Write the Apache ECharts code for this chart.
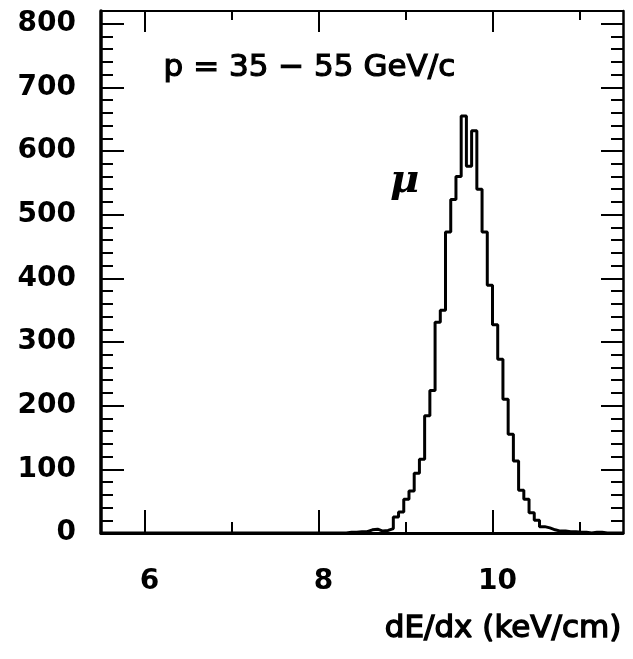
<!DOCTYPE html>
<html><head><meta charset="utf-8">
<script src="https://cdn.jsdelivr.net/npm/echarts@6/dist/echarts.min.js"></script>
<style>html,body{margin:0;padding:0;background:#fff}#c{width:633px;height:659px}</style>
</head><body><div id="c"></div>
<script>
// Histogram: 100 bins of 0.06 keV/cm from 5.5 to 11.5
const xMin = 5.5;
const xMax = 11.5;
const binWidth = 0.06;
const counts = [
  0,0,0,0,0,0,0,0,0,0,
  0,0,0,0,0,0,0,0,0,0,
  0,0,0,0,0,0,0,0,0,0,
  0,0,0,0,0,0,0,0,0,0,
  0,0,0,0,0,0,0,1,1,2,
  2,5,6,3,4,7,25,33,53,66,
  94,116,184,224,331,350,473,524,560,655,
  576,632,540,473,389,327,273,210,155,113,
  67,53,32,20,10,8,5,3,3,2,
  2,1,1,0,1,1,0,0,0,0
];
const xMajorTicks = [6, 8, 10];
const xMinorTicks = [7, 9, 11];
const yMin = 0;
const yMax = 820;
const yMajorStep = 100;
const yMinorStep = 20;
const momentumLabel = 'p = 35 − 55 GeV/c';
const particleLabel = 'μ';
const xTitle = 'dE/dx (keV/cm)';

const stepData = counts.map((c, k) => [xMin + k * binWidth, c]);
stepData.push([xMax, counts[counts.length - 1]]);

const chart = echarts.init(document.getElementById('c'), null, {renderer: 'canvas'});
const FONT = '"DejaVu Sans", "Liberation Sans", sans-serif';
function xAx(pos, ticks, len, showLine, lineW, labels) {
  return {
    type: 'value', min: xMin, max: xMax, position: pos,
    axisLine: {show: showLine, onZero: false, lineStyle: {color: '#000', width: lineW}},
    axisTick: {show: true, inside: true, length: len, customValues: ticks, lineStyle: {color: '#000', width: 2}},
    axisLabel: labels ? {show: true, customValues: ticks, margin: 35, padding: [0, 0, 0, 10], color: '#000', fontSize: 28, fontWeight: 'bold', fontFamily: FONT} : {show: false},
    splitLine: {show: false}
  };
}
function yAx(pos, step, len, showLine, lineW, labels) {
  return {
    type: 'value', min: yMin, max: yMax, interval: step, position: pos,
    axisLine: {show: showLine, onZero: false, lineStyle: {color: '#000', width: lineW}},
    axisTick: {show: true, inside: true, length: len, lineStyle: {color: '#000', width: 2}},
    axisLabel: labels ? {show: true, showMaxLabel: false, margin: 25, color: '#000', fontSize: 28, fontWeight: 'bold', fontFamily: FONT} : {show: false},
    splitLine: {show: false}
  };
}
chart.setOption({
  animation: false,
  backgroundColor: '#fff',
  grid: {left: 101, top: 11, width: 522, height: 522, containLabel: false},
  xAxis: [
    xAx('bottom', xMajorTicks, 23, true, 3, true),
    xAx('bottom', xMinorTicks, 11, false, 1, false),
    xAx('top', xMajorTicks, 21, true, 2, false),
    xAx('top', xMinorTicks, 9, false, 1, false)
  ],
  yAxis: [
    yAx('left', yMajorStep, 23, true, 3.5, true),
    yAx('left', yMinorStep, 12, false, 1, false),
    yAx('right', yMajorStep, 22, true, 2.5, false),
    yAx('right', yMinorStep, 12, false, 1, false)
  ],
  series: [{
    type: 'line', step: 'end', data: stepData, xAxisIndex: 0, yAxisIndex: 0,
    symbol: 'none', lineStyle: {color: '#000', width: 3}, z: 5
  }],
  graphic: [
    {type: 'text', left: 163, top: 52, style: {text: momentumLabel, font: '31px ' + FONT, fill: '#000', stroke: '#000', lineWidth: 1.2}},
    {type: 'text', left: 390, top: 162, style: {text: particleLabel, font: 'italic bold 40px "DejaVu Serif", serif', fill: '#000'}},
    {type: 'text', right: 11, top: 613, style: {text: xTitle, font: '31px ' + FONT, fill: '#000', stroke: '#000', lineWidth: 1.4}}
  ]
});
</script></body></html>
